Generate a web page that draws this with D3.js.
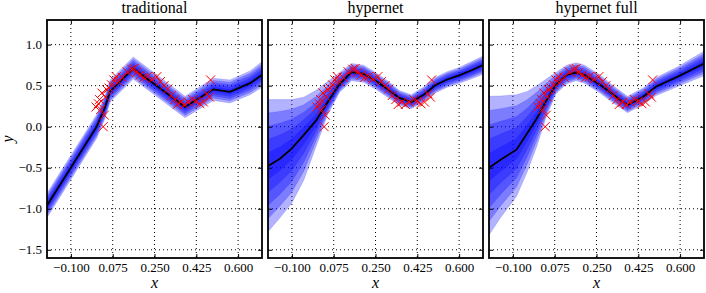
<!DOCTYPE html>
<html>
<head>
<meta charset="utf-8">
<script src="https://cdn.jsdelivr.net/npm/d3@7"></script>
<style>
  body { margin: 0; background: #fff; }
  svg { display: block; font-family: 'Liberation Serif', 'DejaVu Serif', serif; }
  .grid line { stroke: #000; stroke-width: 1; stroke-dasharray: 1,3; }
  .axis path { display: none; }
  .axis line { stroke: #000; stroke-width: 1; }
  .axis text { font-size: 13px; fill: #000; }
</style>
</head>
<body>
<div id="chart"></div>
<script>
const titles = ['traditional', 'hypernet', 'hypernet full'];
const xTicks = [-0.1, 0.075, 0.25, 0.425, 0.6];
const yTicks = [-1.5, -1.0, -0.5, 0.0, 0.5, 1.0];

// training points (red crosses), same in every panel
const trainX = [0.005, 0.015, 0.02, 0.025, 0.03, 0.035, 0.04, 0.045, 0.05, 0.06,
  0.07, 0.08, 0.09, 0.1, 0.115, 0.135, 0.155, 0.165, 0.175, 0.19,
  0.205, 0.22, 0.24, 0.26, 0.275, 0.29, 0.305, 0.32, 0.335, 0.345,
  0.36, 0.375, 0.39, 0.41, 0.425, 0.44, 0.455, 0.47, 0.48, 0.485];
const trainY = [0.24, 0.28, 0.33, 0.21, 0.41, 0.0, 0.14, 0.36, 0.45, 0.47,
  0.51, 0.57, 0.61, 0.55, 0.6, 0.67, 0.7, 0.71, 0.66, 0.63,
  0.6, 0.61, 0.58, 0.61, 0.55, 0.5, 0.46, 0.38, 0.33, 0.27,
  0.3, 0.27, 0.3, 0.33, 0.31, 0.28, 0.3, 0.4, 0.36, 0.57];

// traditional net: prediction and outer band
const tradX = [-0.2, 0.008, 0.043, 0.064, 0.161, 0.378, 0.496, 0.566, 0.65, 0.7];
const tradMean = [-0.96, 0.0, 0.24, 0.43, 0.71, 0.24, 0.455, 0.425, 0.53, 0.63];
const tradHi = [-0.81, 0.15, 0.38, 0.57, 0.85, 0.37, 0.59, 0.57, 0.68, 0.79];
const tradLo = [-1.11, -0.14, 0.1, 0.3, 0.58, 0.11, 0.32, 0.29, 0.39, 0.48];

// hypernet
const hyperX = [-0.2, -0.15, -0.1, -0.05, 0.0, 0.05, 0.1, 0.15, 0.2, 0.25,
  0.3, 0.35, 0.4, 0.45, 0.5, 0.55, 0.6, 0.65, 0.7];
const hyperMean = [-0.48, -0.39, -0.265, -0.1, 0.07, 0.3, 0.52, 0.665, 0.645, 0.56,
  0.46, 0.35, 0.3, 0.385, 0.505, 0.575, 0.625, 0.685, 0.75];
const hyperHi = [0.33, 0.33, 0.33, 0.36, 0.44, 0.55, 0.66, 0.77, 0.75, 0.66,
  0.56, 0.44, 0.39, 0.48, 0.6, 0.67, 0.72, 0.79, 0.86];
const hyperLo = [-1.28, -1.11, -0.93, -0.65, -0.25, 0.15, 0.42, 0.56, 0.54, 0.46,
  0.36, 0.26, 0.22, 0.3, 0.41, 0.48, 0.53, 0.58, 0.64];

// hypernet full
const fullX = [-0.2, -0.15, -0.085, -0.04, 0.0, 0.04, 0.08, 0.125, 0.165, 0.2,
  0.265, 0.32, 0.38, 0.445, 0.5, 0.59, 0.7];
const fullMean = [-0.5, -0.4, -0.28, -0.08, 0.1, 0.32, 0.51, 0.63, 0.66, 0.63,
  0.51, 0.39, 0.265, 0.365, 0.49, 0.61, 0.77];
const fullHi = [0.37, 0.375, 0.39, 0.43, 0.5, 0.58, 0.66, 0.75, 0.78, 0.75,
  0.63, 0.5, 0.37, 0.47, 0.6, 0.73, 0.92];
const fullLo = [-1.32, -1.1, -0.85, -0.55, -0.24, 0.12, 0.4, 0.52, 0.56, 0.53,
  0.41, 0.29, 0.17, 0.27, 0.38, 0.49, 0.62];

// nested band levels, as share of the outer spread
const bandLevels = [1, 0.8, 0.6, 0.4, 0.2];

const width = 706;
const height = 293;
const panelW = 215;
const panelH = 238;
const panelLeft = [47, 268, 489];
const marginTop = 20;
const serif = "'Liberation Serif', 'DejaVu Serif', serif";

const svg = d3.select('#chart')
  .append('svg')
  .attr('width', width)
  .attr('height', height);

const x = d3.scaleLinear().domain([-0.2, 0.7]).range([0, panelW]);
const y = d3.scaleLinear().domain([-1.6, 1.3]).range([panelH, 0]);

const zip = (xs, m, hi, lo) => xs.map((v, i) => ({ x: v, m: m[i], hi: hi[i], lo: lo[i] }));

const panels = [
  zip(tradX, tradMean, tradHi, tradLo),
  zip(hyperX, hyperMean, hyperHi, hyperLo),
  zip(fullX, fullMean, fullHi, fullLo),
];

const fmtX = (d) => d3.format('.3f')(d).replace('-', '\u2212');
const fmtY = (d) => d3.format('.1f')(d).replace('-', '\u2212');

panels.forEach((rows, i) => {
  const g = svg.append('g').attr('transform', `translate(${panelLeft[i]},${marginTop})`);

  g.append('clipPath')
    .attr('id', `clip${i}`)
    .append('rect')
    .attr('width', panelW)
    .attr('height', panelH);

  // dotted grid
  const grid = g.append('g').attr('class', 'grid');
  grid.selectAll('.gx')
    .data(xTicks)
    .join('line')
    .attr('class', 'gx')
    .attr('x1', (d) => x(d))
    .attr('x2', (d) => x(d))
    .attr('y1', 0)
    .attr('y2', panelH);
  grid.selectAll('.gy')
    .data(yTicks)
    .join('line')
    .attr('class', 'gy')
    .attr('x1', 0)
    .attr('x2', panelW)
    .attr('y1', (d) => y(d))
    .attr('y2', (d) => y(d));

  const plot = g.append('g').attr('clip-path', `url(#clip${i})`);

  bandLevels.forEach((f) => {
    const area = d3.area()
      .x((d) => x(d.x))
      .y0((d) => y(d.m - f * (d.m - d.lo)))
      .y1((d) => y(d.m + f * (d.hi - d.m)));
    plot.append('path')
      .datum(rows)
      .attr('d', area)
      .attr('fill', '#0000ff')
      .attr('fill-opacity', 0.3)
      .attr('stroke', '#0000ff')
      .attr('stroke-opacity', 0.25)
      .attr('stroke-width', 0.6);
  });

  const line = d3.line().x((d) => x(d.x)).y((d) => y(d.m));
  plot.append('path')
    .datum(rows)
    .attr('d', line)
    .attr('fill', 'none')
    .attr('stroke', '#000')
    .attr('stroke-width', 1.8);

  plot.selectAll('.pt')
    .data(trainX.map((v, k) => [v, trainY[k]]))
    .join('path')
    .attr('class', 'pt')
    .attr('transform', (d) => `translate(${x(d[0])},${y(d[1])})`)
    .attr('d', 'M-4.5,-4.5L4.5,4.5M-4.5,4.5L4.5,-4.5')
    .attr('stroke', '#ff0000')
    .attr('stroke-width', 1)
    .attr('fill', 'none');

  // ticks point inward on all four sides
  g.append('g')
    .attr('class', 'axis')
    .attr('transform', `translate(0,${panelH})`)
    .call(d3.axisBottom(x).tickValues(xTicks).tickSize(-4).tickPadding(5).tickFormat(fmtX))
    .attr('font-family', serif)
    .attr('font-size', 13);
  g.append('g')
    .attr('class', 'axis')
    .call(d3.axisTop(x).tickValues(xTicks).tickSize(-4).tickFormat(''));
  g.append('g')
    .attr('class', 'axis')
    .call(d3.axisLeft(y).tickValues(yTicks).tickSize(-4).tickPadding(5)
      .tickFormat(i === 0 ? fmtY : ''))
    .attr('font-family', serif)
    .attr('font-size', 13);
  g.append('g')
    .attr('class', 'axis')
    .attr('transform', `translate(${panelW},0)`)
    .call(d3.axisRight(y).tickValues(yTicks).tickSize(-4).tickFormat(''));

  g.append('rect')
    .attr('width', panelW)
    .attr('height', panelH)
    .attr('fill', 'none')
    .attr('stroke', '#000')
    .attr('stroke-width', 1.8);

  g.append('text')
    .attr('x', panelW / 2)
    .attr('y', -7)
    .attr('text-anchor', 'middle')
    .attr('font-family', serif)
    .attr('font-size', 16)
    .text(titles[i]);

  g.append('text')
    .attr('x', panelW / 2)
    .attr('y', panelH + 30)
    .attr('text-anchor', 'middle')
    .attr('font-family', serif)
    .attr('font-size', 16)
    .attr('font-style', 'italic')
    .text('x');
});

svg.append('text')
  .attr('transform', `translate(13,${marginTop + panelH / 2}) rotate(-90)`)
  .attr('text-anchor', 'middle')
  .attr('font-family', serif)
  .attr('font-size', 16)
  .attr('font-style', 'italic')
  .text('y');
</script>
</body>
</html>
